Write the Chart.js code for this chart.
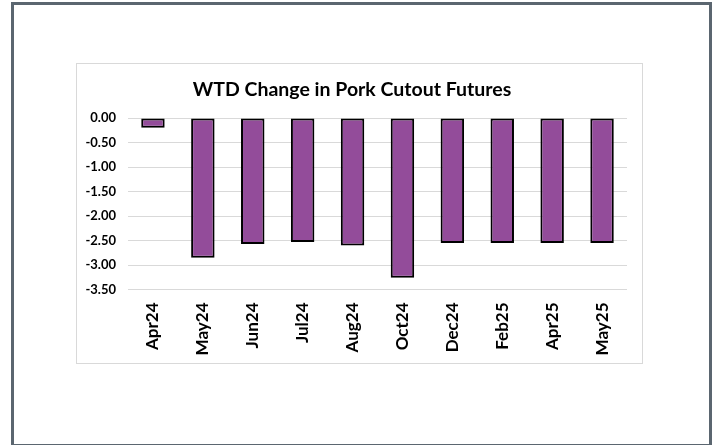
<!DOCTYPE html>
<html>
<head>
<meta charset="utf-8">
<script src="https://cdn.jsdelivr.net/npm/chart.js@4/dist/chart.umd.min.js"></script>
<style>
  html, body { margin: 0; padding: 0; background: #fff; }
  body { width: 713px; height: 445px; position: relative; overflow: hidden; }
  #frame {
    position: absolute; left: 11px; top: 2px; width: 695px; height: 439px;
    border: 3px solid #5b6670;
  }
  #box {
    position: absolute; left: 76px; top: 63px; width: 565px; height: 299px;
    border: 1px solid #d9d9d9;
  }
</style>
</head>
<body>
<div id="frame"></div>
<div id="box"><canvas id="chart" width="565" height="299"></canvas></div>
<script>
const title = 'WTD Change in Pork Cutout Futures';
const contracts = ['Apr24', 'May24', 'Jun24', 'Jul24', 'Aug24', 'Oct24', 'Dec24', 'Feb25', 'Apr25', 'May25'];
const wtdChange = [-0.2, -2.85, -2.57, -2.53, -2.60, -3.26, -2.55, -2.55, -2.55, -2.55];
const yMin = -3.5;
const yMax = 0;
const yStep = 0.5;

const ctx = document.getElementById('chart').getContext('2d');
new Chart(ctx, {
    type: 'bar',
    data: {
        labels: contracts,
        datasets: [{
            data: wtdChange,
            backgroundColor: '#934c9a',
            borderColor: '#000000',
            borderWidth: 2,
            borderSkipped: false,
            barPercentage: 0.94,
            categoryPercentage: 0.5
        }]
    },
    options: {
        responsive: false,
        animation: false,
        layout: { padding: { left: 0, right: 15, top: 0, bottom: 0 } },
        plugins: {
            legend: { display: false },
            tooltip: { enabled: false },
            title: {
                display: true,
                text: title,
                color: '#000',
                font: { family: 'Lato', size: 19.5, weight: 'bold' },
                padding: { top: 14, bottom: 16.6 }
            }
        },
        scales: {
            x: {
                afterFit: scale => { scale.height = 73.5; },
                grid: { display: false, drawTicks: false },
                border: { display: false },
                ticks: {
                    color: '#000',
                    font: { family: 'Lato', size: 17, weight: 'bold' },
                    maxRotation: 90,
                    minRotation: 90,
                    padding: 13
                }
            },
            y: {
                min: yMin,
                max: yMax,
                afterFit: scale => { scale.width = 51; },
                grid: { color: '#d9d9d9', lineWidth: 1, drawTicks: false },
                border: { display: false },
                ticks: {
                    stepSize: yStep,
                    color: '#000',
                    padding: 12,
                    font: { family: 'Lato', size: 13, weight: 'bold' },
                    callback: v => v.toFixed(2)
                }
            }
        }
    }
});
</script>
</body>
</html>
